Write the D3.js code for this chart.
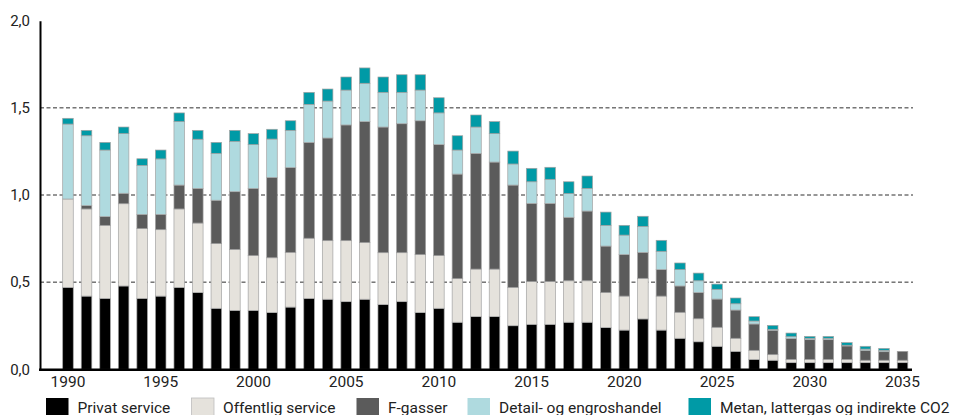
<!DOCTYPE html>
<html>
<head>
<meta charset="utf-8">
<script src="https://cdn.jsdelivr.net/npm/d3@7"></script>
<style>
  html, body { margin: 0; padding: 0; background: #fff; }
  svg { display: block; font-family: Roboto, "Noto Sans", sans-serif; }
</style>
</head>
<body>
<svg id="chart" width="954" height="415"></svg>
<script>
// Years on the x axis
const years = d3.range(1990, 2036);

// Emissions per source (mio. ton CO2e), one value per year
const privatService = [
  0.470, 0.420, 0.407, 0.478, 0.407, 0.420, 0.470, 0.440, 0.350, 0.338,
  0.338, 0.325, 0.357, 0.407, 0.402, 0.388, 0.402, 0.371, 0.388, 0.325,
  0.350, 0.270, 0.302, 0.302, 0.250, 0.258, 0.258, 0.270, 0.270, 0.239,
  0.225, 0.289, 0.225, 0.178, 0.158, 0.132, 0.103, 0.057, 0.052, 0.038,
  0.038, 0.038, 0.038, 0.038, 0.038, 0.038
];
const offentligService = [
  0.507, 0.500, 0.419, 0.472, 0.400, 0.381, 0.450, 0.399, 0.371, 0.350,
  0.314, 0.315, 0.314, 0.345, 0.336, 0.350, 0.325, 0.298, 0.281, 0.333,
  0.302, 0.250, 0.273, 0.273, 0.220, 0.245, 0.245, 0.238, 0.238, 0.201,
  0.195, 0.233, 0.195, 0.149, 0.132, 0.109, 0.075, 0.052, 0.032, 0.019,
  0.019, 0.019, 0.019, 0.014, 0.014, 0.014
];
const fGasser = [
  0.000, 0.019, 0.050, 0.060, 0.082, 0.088, 0.137, 0.199, 0.249, 0.331,
  0.386, 0.461, 0.486, 0.550, 0.589, 0.664, 0.694, 0.721, 0.740, 0.768,
  0.637, 0.600, 0.664, 0.614, 0.587, 0.449, 0.449, 0.364, 0.400, 0.267,
  0.238, 0.149, 0.152, 0.151, 0.150, 0.162, 0.162, 0.151, 0.140, 0.119,
  0.113, 0.113, 0.077, 0.055, 0.049, 0.051
];
const detailEngros = [
  0.430, 0.401, 0.382, 0.342, 0.281, 0.318, 0.364, 0.282, 0.269, 0.289,
  0.251, 0.220, 0.214, 0.218, 0.212, 0.200, 0.220, 0.199, 0.180, 0.176,
  0.182, 0.138, 0.151, 0.163, 0.121, 0.124, 0.138, 0.136, 0.130, 0.119,
  0.112, 0.149, 0.105, 0.094, 0.068, 0.056, 0.036, 0.017, 0.005, 0.011,
  0.008, 0.008, 0.004, 0.009, 0.008, 0.000
];
const metanLattergas = [
  0.033, 0.031, 0.044, 0.038, 0.038, 0.051, 0.050, 0.051, 0.063, 0.063,
  0.063, 0.056, 0.055, 0.069, 0.069, 0.075, 0.088, 0.088, 0.101, 0.088,
  0.087, 0.082, 0.069, 0.069, 0.074, 0.077, 0.069, 0.068, 0.071, 0.076,
  0.056, 0.058, 0.063, 0.038, 0.044, 0.030, 0.033, 0.025, 0.023, 0.021,
  0.011, 0.011, 0.015, 0.016, 0.011, 0.000
];

// Series names (legend text) and their fills
const seriesNames = ["Privat service", "Offentlig service", "F-gasser",
                     "Detail- og engroshandel", "Metan, lattergas og indirekte CO2"];
const seriesColors = ["#000000", "#e5e2dc", "#5b5b5b", "#afdadf", "#009aa6"];

// Axis tick values
const yTicks = [0, 0.5, 1.0, 1.5, 2.0];
const xTickYears = [1990, 1995, 2000, 2005, 2010, 2015, 2020, 2025, 2030, 2035];

// Table for the stack layout
const seriesValues = [privatService, offentligService, fGasser, detailEngros, metanLattergas];
const table = years.map((yr, i) => {
  const row = { year: yr };
  seriesNames.forEach((name, k) => { row[name] = seriesValues[k][i]; });
  return row;
});

const svg = d3.select("#chart");
const axisLeftX = 40;
const plotRight = 913;

const x = d3.scaleBand()
  .domain(years)
  .range([58.7, 911.8])
  .paddingInner(0.43)
  .paddingOuter(0.215);

const y = d3.scaleLinear()
  .domain([0, 2])
  .range([369.3, 20.7]);

const fmt = v => d3.format(".1f")(v).replace(".", ",");

// Dashed gridlines
svg.append("g")
  .selectAll("line")
  .data(yTicks.filter(t => t > 0 && t < 2))
  .join("line")
  .attr("x1", axisLeftX)
  .attr("x2", plotRight)
  .attr("y1", d => y(d))
  .attr("y2", d => y(d))
  .attr("stroke", "#2e2e2e")
  .attr("stroke-width", 1)
  .attr("stroke-dasharray", "4,2.5");

// Stacked bars
const stack = d3.stack().keys(seriesNames);
const layers = stack(table);

svg.append("g")
  .selectAll("g")
  .data(layers)
  .join("g")
  .attr("fill", (d, i) => seriesColors[i])
  .selectAll("rect")
  .data(d => d.filter(s => s[1] - s[0] > 0))
  .join("rect")
  .attr("x", d => x(d.data.year))
  .attr("width", x.bandwidth())
  .attr("y", d => y(d[1]))
  .attr("height", d => y(d[0]) - y(d[1]))
  .attr("stroke", "#a3a3a3")
  .attr("stroke-width", 0.7);

// Y axis
const yAxis = svg.append("g")
  .attr("transform", `translate(${axisLeftX},0)`)
  .call(d3.axisLeft(y).tickValues(yTicks).tickFormat(fmt).tickSize(0).tickPadding(10));
yAxis.select(".domain").attr("stroke", "#000").attr("stroke-width", 2);
yAxis.selectAll("text")
  .attr("font-size", 15)
  .attr("font-family", "Roboto, sans-serif")
  .attr("fill", "#222");

// X axis
const xAxis = svg.append("g")
  .attr("transform", `translate(0,${y(0)})`)
  .call(d3.axisBottom(x).tickValues(xTickYears).tickSize(0).tickPadding(7));
xAxis.select(".domain").remove();
xAxis.selectAll("text")
  .attr("font-size", 15.5)
  .attr("font-family", "Roboto, sans-serif")
  .attr("fill", "#222");
svg.append("line")
  .attr("x1", axisLeftX - 1)
  .attr("x2", 912)
  .attr("y1", y(0) + 0.5)
  .attr("y2", y(0) + 0.5)
  .attr("stroke", "#000")
  .attr("stroke-width", 2.5);

// Legend
const legendX = [46, 191.5, 356.5, 467.5, 688.5];
const legend = svg.append("g").attr("transform", "translate(0,398)");
const item = legend.selectAll("g")
  .data(seriesNames)
  .join("g")
  .attr("transform", (d, i) => `translate(${legendX[i]},0)`);
item.append("rect")
  .attr("width", 22.5)
  .attr("height", 20)
  .attr("fill", (d, i) => seriesColors[i])
  .attr("stroke", (d, i) => i === 1 ? "#bdbdbd" : "none")
  .attr("stroke-width", 0.8);
item.append("text")
  .attr("x", 31.5)
  .attr("y", 14.5)
  .attr("font-size", 15.5)
  .attr("font-family", "Roboto, sans-serif")
  .attr("fill", "#222")
  .text(d => d);
</script>
</body>
</html>
